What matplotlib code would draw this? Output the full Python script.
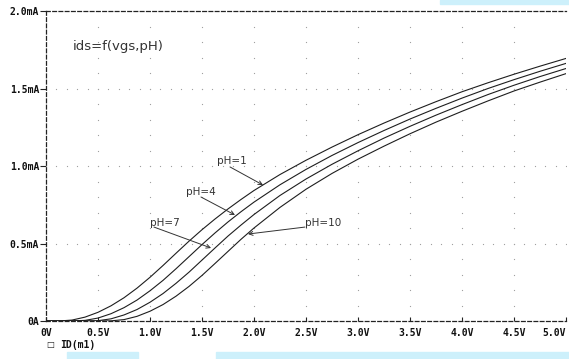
import numpy as np
import matplotlib
matplotlib.use("Agg")
import matplotlib.pyplot as plt
from matplotlib.patches import Rectangle

# ---- data ----
vgs = [0, 0.125, 0.25, 0.375, 0.5, 0.625, 0.75, 0.875, 1.0, 1.125, 1.25, 1.375,
       1.5, 1.625, 1.75, 1.875, 2.0, 2.25, 2.5, 2.75, 3.0, 3.25, 3.5, 3.75,
       4.0, 4.25, 4.5, 4.75, 5.0]
id_ph1 = [0, 0, 0.006, 0.025, 0.056, 0.098, 0.150, 0.212, 0.282, 0.358, 0.437, 0.515,
          0.589, 0.658, 0.723, 0.784, 0.842, 0.945, 1.037, 1.122, 1.202, 1.277, 1.348,
          1.415, 1.479, 1.537, 1.592, 1.644, 1.694]
id_ph4 = [0, 0, 0, 0.004, 0.019, 0.047, 0.086, 0.135, 0.195, 0.262, 0.337, 0.415,
          0.493, 0.568, 0.639, 0.705, 0.767, 0.879, 0.978, 1.068, 1.151, 1.229, 1.303,
          1.372, 1.438, 1.500, 1.557, 1.611, 1.662]
id_ph7 = [0, 0, 0, 0, 0.002, 0.014, 0.039, 0.074, 0.121, 0.177, 0.243, 0.315,
          0.393, 0.471, 0.548, 0.619, 0.687, 0.810, 0.916, 1.011, 1.098, 1.180, 1.256,
          1.328, 1.396, 1.461, 1.521, 1.577, 1.629]
id_ph10 = [0, 0, 0, 0, 0, 0.001, 0.009, 0.030, 0.063, 0.106, 0.160, 0.223,
           0.294, 0.371, 0.449, 0.527, 0.600, 0.733, 0.850, 0.952, 1.044, 1.128, 1.208,
           1.283, 1.353, 1.420, 1.484, 1.541, 1.596]

x_ticks = [0, 0.5, 1.0, 1.5, 2.0, 2.5, 3.0, 3.5, 4.0, 4.5, 5.0]
x_labels = ["0V", "0.5V", "1.0V", "1.5V", "2.0V", "2.5V", "3.0V", "3.5V", "4.0V", "4.5V", "5.0V"]
y_ticks = [0, 0.5, 1.0, 1.5, 2.0]
y_labels = ["0A", "0.5mA", "1.0mA", "1.5mA", "2.0mA"]

title_text = "ids=f(vgs,pH)"
legend_text = "ID(m1)"
ann_labels = ["pH=1", "pH=4", "pH=7", "pH=10"]
ann_text_pos = [(1.644, 1.032), (1.346, 0.832), (1.0, 0.632), (2.49, 0.632)]
ann_start = [(1.769, 0.994), (1.490, 0.800), (1.038, 0.606), (2.49, 0.606)]
ann_tip = [(2.087, 0.877), (1.817, 0.684), (1.587, 0.471), (1.942, 0.561)]

# ---- figure ----
W, H = 569, 359
fig = plt.figure(figsize=(W / 100, H / 100), dpi=100)
fig.patch.set_facecolor("white")
ax = fig.add_axes([46 / W, 1 - 321 / H, (566 - 46) / W, (321 - 11) / H])
ax.set_xlim(0, 5.0)
ax.set_ylim(0, 2.0)

# dotted grid made of points
gcol = "#a0a0a0"
minor_x = np.arange(0, 5.0001, 0.1)
minor_y = np.arange(0, 2.0001, 0.1)
for yv in y_ticks[1:-1]:
    ax.plot(minor_x, np.full_like(minor_x, yv), linestyle="none", marker="s",
            markersize=0.8, color=gcol, markeredgewidth=0)
for xv in x_ticks[1:-1]:
    ax.plot(np.full_like(minor_y, xv), minor_y, linestyle="none", marker="s",
            markersize=0.8, color=gcol, markeredgewidth=0)

# curves
ccol = "#1e1e1e"
for ser in (id_ph1, id_ph4, id_ph7, id_ph10):
    ax.plot(vgs, ser, color=ccol, linewidth=0.8, solid_joinstyle="round")

# spines dashed
for side in ("left", "bottom", "top"):
    ax.spines[side].set_linestyle((0, (3, 2)))
    ax.spines[side].set_linewidth(0.9)
    ax.spines[side].set_color("#222222")
ax.spines["right"].set_visible(False)

ax.set_xticks(x_ticks)
ax.set_xticklabels(x_labels)
ax.set_yticks(y_ticks)
ax.set_yticklabels(y_labels)
ax.tick_params(axis="x", direction="in", length=3, width=0.8, pad=5, colors="#222222")
ax.tick_params(axis="y", direction="out", length=4, width=0.8, pad=1, colors="#222222")
for lab in ax.get_xticklabels() + ax.get_yticklabels():
    lab.set_fontfamily("DejaVu Sans Mono")
    lab.set_fontweight("bold")
    lab.set_fontsize(7)
    lab.set_color("#111111")
ax.get_xticklabels()[-1].set_horizontalalignment("right")

# title inside plot
ax.text(0.26, 1.77, title_text, fontsize=9.5, family="DejaVu Sans", color="#333333",
        ha="left", va="center")

# annotations
for lab, tp, sp, tip in zip(ann_labels, ann_text_pos, ann_start, ann_tip):
    ax.text(tp[0], tp[1], lab, fontsize=7.5, family="DejaVu Sans", color="#333333",
            ha="left", va="center")
    ax.annotate("", xy=tip, xytext=sp,
                arrowprops=dict(arrowstyle="->", color="#333333", lw=0.7,
                                shrinkA=0, shrinkB=0, mutation_scale=7))

# legend-like label below
fig.text(50 / W, 1 - 345 / H, "\u25a1", fontsize=6, family="DejaVu Sans",
         ha="center", va="center", color="#222222")
fig.text(60 / W, 1 - 345 / H, legend_text, fontsize=7, family="DejaVu Sans Mono",
         fontweight="bold", ha="left", va="center", color="#111111")

# light blue screenshot bands
band = "#cdf0fb"
for (x0, y0, x1, y1) in [(440, 0, 569, 4), (67, 352, 138, 359), (216, 352, 569, 359)]:
    fig.patches.append(Rectangle((x0 / W, 1 - y1 / H), (x1 - x0) / W, (y1 - y0) / H,
                                 transform=fig.transFigure, color=band, zorder=0))

fig.savefig("out.png", dpi=100)
